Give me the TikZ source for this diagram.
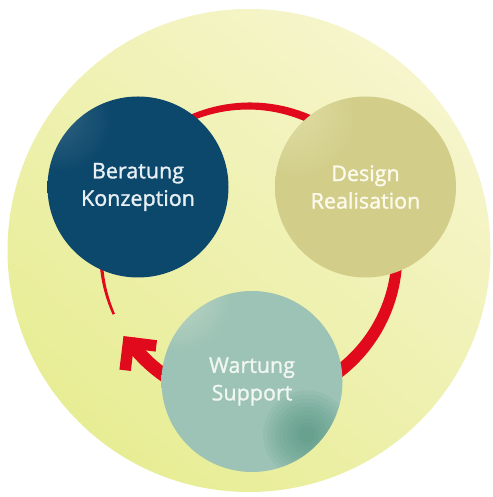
\documentclass[tikz,border=0pt]{standalone}
\usepackage{fontspec}
\usepackage{tikz}
\newfontfamily\ballfam{Open Sans}[FakeBold=1.4]

\definecolor{paper}{RGB}{255,255,255}
\definecolor{yellowpale}{RGB}{246,245,204}
\definecolor{yellowdeep}{RGB}{231,237,148}
\definecolor{ringred}{RGB}{224,10,28}
\definecolor{bluehi}{RGB}{58,104,132}
\definecolor{bluebase}{RGB}{12,72,108}
\definecolor{bluedark}{RGB}{4,42,66}
\definecolor{tanhi}{RGB}{226,223,168}
\definecolor{tanbase}{RGB}{210,206,138}
\definecolor{tandark}{RGB}{196,192,112}
\definecolor{tealhi}{RGB}{198,218,200}
\definecolor{tealbase}{RGB}{156,195,181}
\definecolor{tealdark}{RGB}{70,140,120}
\definecolor{bluetext}{RGB}{232,240,244}
\definecolor{tantext}{RGB}{252,250,236}
\definecolor{tealtext}{RGB}{240,246,242}

\pgfdeclareradialshading{bluesphere}{\pgfpoint{-26bp}{22bp}}{color(0bp)=(bluehi); color(14bp)=(bluebase); color(50bp)=(bluebase); color(62bp)=(bluedark); color(80bp)=(bluedark)}
\pgfdeclareradialshading{tansphere}{\pgfpoint{-24bp}{24bp}}{color(0bp)=(tanhi); color(16bp)=(tanbase); color(50bp)=(tanbase); color(64bp)=(tandark); color(80bp)=(tandark)}
\pgfdeclareradialshading{tealsphere}{\pgfpoint{-24bp}{27bp}}{color(0bp)=(tealhi); color(14bp)=(tealbase); color(80bp)=(tealbase)}

\begin{document}
\begin{tikzpicture}
[x=1pt,y=1pt
,ball/.style={circle,minimum size=181pt,inner sep=0pt,align=center,font={\ballfam\fontsize{21.5}{27.5}\selectfont}}
,ring/.style={fill=ringred}
,head/.style={draw=ringred,line width=11.5pt,line join=miter}
]
\fill[paper] (0,0) rectangle (492,497);
\shade[bottom color=yellowdeep,top color=yellowpale,shading angle=-40] (249,246.5) circle (241.5);
\coordinate (hub) at (249,243);
% tapered ring, thin after the arrow and growing towards it
\begin{scope}[shift={(hub)}]
\fill[ring] plot[domain=204:-144,samples=160,variable=\t] (\t:{148+min(13.5,2.5+0.04*(204-\t))/2})
 -- plot[domain=-144:204,samples=160,variable=\t] (\t:{148-min(13.5,2.5+0.04*(204-\t))/2}) -- cycle;
\coordinate (tip) at (216.3:149.5);
\end{scope}
\draw[head] ([shift={(-7:28)}]tip) -- (tip) -- ([shift={(-97:28)}]tip);
\node[ball,shade,shading=bluesphere,text=bluetext] (bk) at (138,310) {Beratung\\Konzeption};
\node[ball,shade,shading=tansphere,text=tantext] (dr) at (365.5,310) {Design\\Realisation};
\node[ball,shade,shading=tealsphere,text=tealtext
,path picture={\foreach \r in {44,40,...,8} \fill[tealdark,opacity=0.08] ([shift={(55,-53)}]path picture bounding box.center) circle (\r);}] (ws) at (252,115.5) {Wartung\\Support};
\end{tikzpicture}
\end{document}
